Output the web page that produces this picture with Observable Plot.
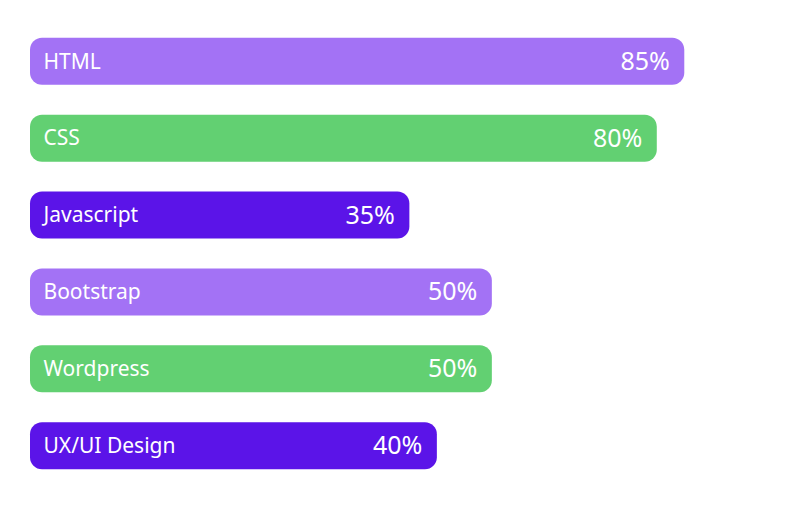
<!DOCTYPE html>
<html>
<head>
<meta charset="utf-8">
<script src="https://cdn.jsdelivr.net/npm/d3@7"></script>
<script src="https://cdn.jsdelivr.net/npm/@observablehq/plot@0.6"></script>
<style>
  html, body { margin: 0; padding: 0; background: #fff; }
  #chart svg { display: block; }
</style>
</head>
<body>
<div id="chart"></div>
<script>
const skills = ["HTML", "CSS", "Javascript", "Bootstrap", "Wordpress", "UX/UI Design"];
const values = [85, 80, 35, 50, 50, 40];

const palette = ["#a372f5", "#62d072", "#5b14e8"];
const xDomain = [-34, 103.5];

const data = skills.map((s, i) => ({skill: s, value: values[i], idx: i}));

const chart = Plot.plot({
  width: 786,
  height: 517,
  marginLeft: 30,
  marginRight: 0,
  marginTop: 8,
  marginBottom: 18,
  style: {fontFamily: "'Noto Sans', sans-serif", background: "#fff"},
  x: {domain: xDomain, axis: null},
  y: {domain: skills, axis: null, padding: 0.388, round: false},
  marks: [
    Plot.barX(data, {
      y: "skill",
      x1: () => xDomain[0],
      x2: "value",
      fill: d => palette[d.idx % palette.length],
      rx: 12
    }),
    Plot.text(data, {
      y: "skill",
      x: () => xDomain[0],
      text: "skill",
      textAnchor: "start",
      dx: 13,
      fill: "#fff",
      fontSize: 21
    }),
    Plot.text(data, {
      y: "skill",
      x: "value",
      text: d => d.value + "%",
      textAnchor: "end",
      dx: -15,
      fill: "#fff",
      fontSize: 25
    })
  ]
});
document.getElementById("chart").append(chart);
</script>
</body>
</html>
